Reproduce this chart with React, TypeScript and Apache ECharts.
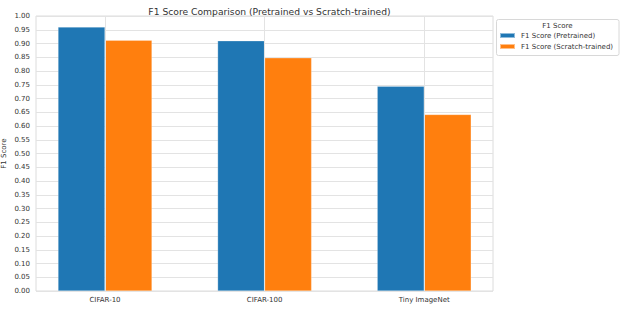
import React, { useEffect, useRef } from "react";
import * as echarts from "echarts";

const categories = ["CIFAR-10", "CIFAR-100", "Tiny ImageNet"];
const pretrained = [0.96, 0.91, 0.745];
const scratch = [0.912, 0.848, 0.642];
const seriesNames = ["F1 Score (Pretrained)", "F1 Score (Scratch-trained)"];
const legendTitle = "F1 Score";
const chartTitle = "F1 Score Comparison (Pretrained vs Scratch-trained)";
const yAxisName = "F1 Score";

export default function App() {
  const ref = useRef<HTMLDivElement>(null);
  useEffect(() => {
    if (!ref.current) return;
    const chart = echarts.init(ref.current, undefined, { renderer: "svg" });
    const font = "DejaVu Sans";
    const textColor = "#333";
    const gridColor = "#e3e3e3";
    chart.setOption({
      animation: false,
      backgroundColor: "#fff",
      textStyle: { fontFamily: font },
      title: {
        text: chartTitle,
        left: 264.5,
        textAlign: "center",
        top: 2,
        textStyle: { fontFamily: font, fontSize: 9.2, fontWeight: "normal", color: textColor },
      },
      grid: [
        {
          left: 36,
          right: 131,
          top: 16,
          bottom: 18,
          show: true,
          borderColor: "#dcdcdc",
          borderWidth: 1,
          containLabel: false,
          outerBoundsMode: "none",
        },
        {
          left: 25.2,
          right: 120,
          top: 16,
          bottom: 18,
          containLabel: false,
          outerBoundsMode: "none",
        },
      ],
      xAxis: [
        {
          type: "category",
          gridIndex: 0,
          data: categories,
          show: false,
        },
        {
          type: "category",
          gridIndex: 1,
          data: categories,
          axisLine: { show: false },
          axisTick: { show: false },
          splitLine: { show: false },
          axisLabel: {
            fontFamily: font,
            fontSize: 7,
            color: textColor,
            margin: 5,
          },
        },
      ],
      yAxis: [
        {
          type: "value",
          gridIndex: 0,
          min: 0,
          max: 1,
          interval: 0.05,
          name: yAxisName,
          nameLocation: "middle",
          nameGap: 29,
          nameMoveOverlap: false,
          nameTextStyle: { fontFamily: font, fontSize: 7, color: textColor },
          axisLine: { show: false },
          axisTick: { show: false },
          axisLabel: {
            formatter: (v: number) => v.toFixed(2),
            fontFamily: font,
            fontSize: 7,
            color: textColor,
            margin: 6,
          },
          splitLine: { show: true, lineStyle: { color: gridColor, width: 1 } },
        },
        {
          type: "value",
          gridIndex: 1,
          min: 0,
          max: 1,
          show: false,
          splitLine: { show: false },
        },
      ],
      legend: {
        orient: "vertical",
        left: 499,
        top: 32,
        itemWidth: 15,
        itemHeight: 5,
        itemGap: 4,
        padding: 0,
        icon: "rect",
        textStyle: { fontFamily: font, fontSize: 7, color: textColor, padding: [0, 0, 0, 1] },
        data: seriesNames,
      },
      graphic: [
        {
          type: "rect",
          shape: { x: 496.5, y: 19.5, width: 122.5, height: 36, r: 2 },
          style: { fill: "#fff", stroke: "#d8d8d8", lineWidth: 1 },
          z: -1,
        },
        {
          type: "text",
          x: 557.5,
          y: 25.5,
          style: {
            text: legendTitle,
            fontFamily: font,
            fontSize: 7,
            fill: textColor,
            align: "center",
            verticalAlign: "middle",
          },
        },
      ],
      series: [
        {
          type: "line",
          name: "vgrid",
          xAxisIndex: 1,
          yAxisIndex: 1,
          data: [],
          z: 1,
          silent: true,
          markLine: {
            silent: true,
            symbol: "none",
            label: { show: false },
            lineStyle: { color: gridColor, width: 1, type: "solid" },
            data: categories.map((c) => ({ xAxis: c })),
          },
        },
        {
          type: "bar",
          name: seriesNames[0],
          xAxisIndex: 1,
          yAxisIndex: 1,
          data: pretrained,
          barWidth: 47,
          barGap: "0%",
          z: 3,
          itemStyle: { color: "#1f77b4", borderColor: "rgba(255,255,255,0.5)", borderWidth: 0.5 },
        },
        {
          type: "bar",
          name: seriesNames[1],
          xAxisIndex: 1,
          yAxisIndex: 1,
          data: scratch,
          barWidth: 47,
          barGap: "0%",
          z: 3,
          itemStyle: { color: "#ff7f0e", borderColor: "rgba(255,255,255,0.5)", borderWidth: 0.5 },
        },
      ],
    });
    return () => chart.dispose();
  }, []);
  return (
    <div
      ref={ref}
      style={{ position: "fixed", left: 0, top: 0, width: 624, height: 309 }}
    />
  );
}
